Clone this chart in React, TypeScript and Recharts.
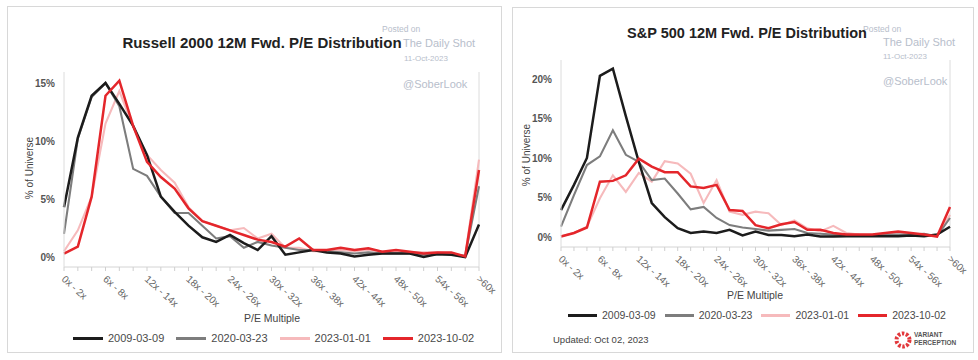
import React from "react";
import { LineChart, Line, XAxis, YAxis, ReferenceLine } from "recharts";

const categories = [
  "0x - 2x", "2x - 4x", "4x - 6x", "6x - 8x", "8x - 10x", "10x - 12x",
  "12x - 14x", "14x - 16x", "16x - 18x", "18x - 20x", "20x - 22x", "22x - 24x",
  "24x - 26x", "26x - 28x", "28x - 30x", "30x - 32x", "32x - 34x", "34x - 36x",
  "36x - 38x", "38x - 40x", "40x - 42x", "42x - 44x", "44x - 46x", "46x - 48x",
  "48x - 50x", "50x - 52x", "52x - 54x", "54x - 56x", "56x - 58x", "58x - 60x",
  ">60x",
];

// Russell 2000, % of universe
const russell2009 = [4.3, 10.3, 13.9, 15.0, 13.2, 11.3, 8.8, 5.2, 3.9, 2.7, 1.7, 1.3, 1.9, 1.2, 0.6, 1.8, 0.2, 0.4, 0.6, 0.4, 0.3, 0.05, 0.2, 0.3, 0.3, 0.3, 0.0, 0.25, 0.2, 0.0, 2.8];
const russell2020 = [2.0, 10.2, 13.8, 15.0, 13.0, 7.6, 7.0, 5.2, 3.8, 3.8, 2.7, 1.6, 1.8, 0.8, 1.3, 1.0, 0.8, 0.6, 0.6, 0.5, 0.4, 0.3, 0.4, 0.3, 0.3, 0.3, 0.2, 0.2, 0.2, 0.1, 6.1];
const russell2023a = [0.5, 2.3, 5.2, 11.5, 14.3, 11.2, 8.8, 7.5, 6.4, 4.3, 3.1, 2.7, 2.3, 2.5, 1.6, 2.0, 0.8, 0.8, 0.5, 0.5, 0.6, 0.5, 0.6, 0.5, 0.4, 0.4, 0.4, 0.4, 0.3, 0.1, 8.4];
const russell2023b = [0.3, 0.9, 5.2, 13.9, 15.2, 11.3, 8.2, 6.9, 5.9, 4.2, 3.1, 2.7, 2.3, 1.9, 1.5, 1.3, 0.9, 1.6, 0.6, 0.6, 0.8, 0.6, 0.75, 0.45, 0.6, 0.45, 0.3, 0.4, 0.4, 0.05, 7.5];

// S&P 500, % of universe
const sp2009 = [3.4, 6.6, 10.0, 20.4, 21.3, 15.3, 9.5, 4.3, 2.5, 1.1, 0.5, 0.7, 0.5, 0.9, 0.2, 0.7, 0.25, 0.25, 0.1, 0.3, 0.05, 0.05, 0.1, 0.1, 0.1, 0.1, 0.1, 0.2, 0.1, 0.3, 1.3];
const sp2020 = [1.3, 5.3, 9.1, 10.2, 13.5, 10.4, 9.5, 7.2, 7.4, 5.5, 3.5, 3.8, 2.4, 1.5, 1.2, 1.0, 0.8, 0.9, 1.0, 0.5, 0.4, 0.3, 0.3, 0.2, 0.2, 0.3, 0.3, 0.3, 0.4, 0.1, 2.4];
const sp2023a = [0.1, 0.5, 1.3, 4.9, 7.8, 5.7, 8.1, 7.0, 9.6, 9.3, 8.0, 4.3, 7.2, 3.2, 2.8, 3.2, 3.0, 1.5, 2.1, 1.1, 0.7, 1.4, 0.5, 0.3, 0.2, 0.4, 0.6, 0.4, 0.2, 0.1, 2.8];
const sp2023b = [0.05, 0.5, 1.2, 7.0, 7.1, 7.8, 9.9, 8.9, 8.2, 8.2, 6.4, 6.2, 6.6, 3.4, 3.3, 1.5, 1.1, 1.6, 1.9, 0.9, 0.9, 0.5, 0.3, 0.3, 0.3, 0.5, 0.7, 0.5, 0.3, 0.05, 3.8];

const series = [
  { key: "d2009", name: "2009-03-09", color: "#1c1c1c", width: 2.5 },
  { key: "d2020", name: "2020-03-23", color: "#7d7d7d", width: 2.1 },
  { key: "d2023a", name: "2023-01-01", color: "#f6babc", width: 2.1 },
  { key: "d2023b", name: "2023-10-02", color: "#e4262b", width: 2.5 },
];
// pink first, red last on top
const drawOrder = ["d2023a", "d2020", "d2009", "d2023b"];

const buildRows = (a: number[], b: number[], c: number[], d: number[]) =>
  categories.map((cat, i) => ({ cat, d2009: a[i], d2020: b[i], d2023a: c[i], d2023b: d[i] }));

const russellRows = buildRows(russell2009, russell2020, russell2023a, russell2023b);
const spRows = buildRows(sp2009, sp2020, sp2023a, sp2023b);

const FONT = "'Liberation Sans', Arial, sans-serif";
const WATERMARK = "#b7becb";

function PeTick(props: any) {
  const { x, y, payload } = props;
  const idx = categories.indexOf(payload.value);
  if (idx % 3 !== 0) return <g />;
  const tx = x - 3;
  const ty = y + 7;
  return (
    <text
      x={tx}
      y={ty}
      transform={`rotate(42 ${tx} ${ty})`}
      textAnchor="start"
      fontSize={10}
      fontFamily={FONT}
      fill="#666"
    >
      {payload.value}
    </text>
  );
}

function Txt(props: { x: number; y: number; size: number; color: string; bold?: boolean; center?: boolean; children: React.ReactNode }) {
  const { x, y, size, color, bold, center, children } = props;
  const h = size + 4;
  return (
    <div
      style={{
        position: "absolute",
        left: center ? x - 200 : x,
        top: y - h / 2,
        width: center ? 400 : undefined,
        height: h,
        lineHeight: `${h}px`,
        fontSize: size,
        fontWeight: bold ? 700 : 400,
        color,
        textAlign: center ? "center" : "left",
        whiteSpace: "nowrap",
        fontFamily: FONT,
      }}
    >
      {children}
    </div>
  );
}

function LegendRow(props: { x: number; y: number; lineW: number; gap: number; size: number }) {
  const { x, y, lineW, gap, size } = props;
  return (
    <div style={{ position: "absolute", left: x, top: y - 8, height: 16, display: "flex", alignItems: "center", fontFamily: FONT }}>
      {series.map((s) => (
        <div key={s.key} style={{ display: "flex", alignItems: "center", marginRight: gap }}>
          <div style={{ width: lineW, height: 3, background: s.color, marginRight: 5 }} />
          <span style={{ fontSize: size, color: "#4a4a4a" }}>{s.name}</span>
        </div>
      ))}
    </div>
  );
}

function YTitle(props: { cx: number; cy: number }) {
  return (
    <div
      style={{
        position: "absolute",
        left: props.cx - 50,
        top: props.cy - 7,
        width: 100,
        height: 14,
        lineHeight: "14px",
        textAlign: "center",
        fontSize: 10,
        color: "#444",
        fontFamily: FONT,
        transform: "rotate(-90deg)",
      }}
    >
      % of Universe
    </div>
  );
}

function DistChart(props: {
  rows: any[];
  left: number;
  top: number;
  width: number;
  height: number;
  margin: { top: number; right: number; bottom: number; left: number };
  yWidth: number;
  domain: [number, number];
  ticks: number[];
}) {
  const { rows, left, top, width, height, margin, yWidth, domain, ticks } = props;
  return (
    <div style={{ position: "absolute", left, top }}>
      <LineChart width={width} height={height} data={rows} margin={margin}>
        <XAxis
          dataKey="cat"
          interval={0}
          height={50}
          tick={<PeTick />}
          tickSize={4}
          tickLine={{ stroke: "#cfcfcf" }}
          axisLine={{ stroke: "#d4d4d4" }}
        />
        <YAxis
          width={yWidth}
          domain={domain}
          ticks={ticks}
          allowDataOverflow
          tickLine={false}
          tickMargin={3}
          axisLine={{ stroke: "#dcdcdc" }}
          tickFormatter={(v: number) => `${v}%`}
          tick={{ fontSize: 10, fill: "#555", fontFamily: FONT, fontWeight: 600 }}
        />
        <ReferenceLine x=">60x" stroke="#dcdcdc" strokeWidth={1} />
        {drawOrder.map((k) => {
          const s = series.find((z) => z.key === k)!;
          return (
            <Line
              key={k}
              type="linear"
              dataKey={k}
              name={s.name}
              stroke={s.color}
              strokeWidth={s.width}
              dot={false}
              isAnimationActive={false}
            />
          );
        })}
      </LineChart>
    </div>
  );
}

export default function App() {
  return (
    <div style={{ position: "absolute", left: 0, top: 0, width: 978, height: 360, background: "#fff", overflow: "hidden" }}>
      {/* panel frames */}
      <div style={{ position: "absolute", left: 7, top: 6, width: 493, height: 345, border: "1px solid #d8d8d8" }} />
      <div style={{ position: "absolute", left: 512, top: 7, width: 460, height: 344, border: "1px solid #d8d8d8" }} />

      {/* Russell 2000 */}
      <DistChart
        rows={russellRows}
        left={7}
        top={6}
        width={494}
        height={346}
        margin={{ top: 66, right: 22, bottom: 35, left: 17 }}
        yWidth={40}
        domain={[-0.86, 15.95]}
        ticks={[0, 5, 10, 15]}
      />
      <Txt x={382} y={29} size={8.5} color={WATERMARK}>Posted on</Txt>
      <Txt x={403} y={43} size={11} color={WATERMARK}>The Daily Shot</Txt>
      <Txt x={404} y={59} size={8} color={WATERMARK}>11-Oct-2023</Txt>
      <Txt x={403} y={84} size={11} color={WATERMARK}>@SoberLook</Txt>
      <Txt x={262} y={42} size={15} color="#222" bold center>Russell 2000 12M Fwd. P/E Distribution</Txt>
      <YTitle cx={30} cy={168} />
      <Txt x={272} y={318} size={10.5} color="#444" center>P/E Multiple</Txt>
      <LegendRow x={73} y={338} lineW={30} gap={12} size={11} />

      {/* S&P 500 */}
      <DistChart
        rows={spRows}
        left={512}
        top={7}
        width={461}
        height={345}
        margin={{ top: 53, right: 23, bottom: 55, left: 13 }}
        yWidth={36}
        domain={[-1.27, 22.4]}
        ticks={[0, 5, 10, 15, 20]}
      />
      <Txt x={863} y={29} size={8.5} color={WATERMARK}>Posted on</Txt>
      <Txt x={883} y={42} size={11} color={WATERMARK}>The Daily Shot</Txt>
      <Txt x={883} y={57} size={8} color={WATERMARK}>11-Oct-2023</Txt>
      <Txt x={883} y={81} size={11} color={WATERMARK}>@SoberLook</Txt>
      <Txt x={747} y={33} size={14.5} color="#222" bold center>S&amp;P 500 12M Fwd. P/E Distribution</Txt>
      <YTitle cx={527} cy={155} />
      <Txt x={755} y={295} size={10.5} color="#444" center>P/E Multiple</Txt>
      <LegendRow x={568} y={315} lineW={29} gap={9} size={10.5} />
      <Txt x={553} y={340} size={9.5} color="#444">Updated: Oct 02, 2023</Txt>

      {/* Variant Perception mark */}
      <svg style={{ position: "absolute", left: 893, top: 330 }} width={20} height={20}>
        <circle cx={10} cy={10} r={6.5} fill="none" stroke="#e2383c" strokeWidth={4} strokeDasharray="2.5 1.6" />
      </svg>
      <div style={{ position: "absolute", left: 914, top: 331, fontFamily: FONT, fontSize: 6.5, fontWeight: 700, color: "#555", lineHeight: "7.5px" }}>
        VARIANT
        <br />
        PERCEPTION
      </div>
    </div>
  );
}
